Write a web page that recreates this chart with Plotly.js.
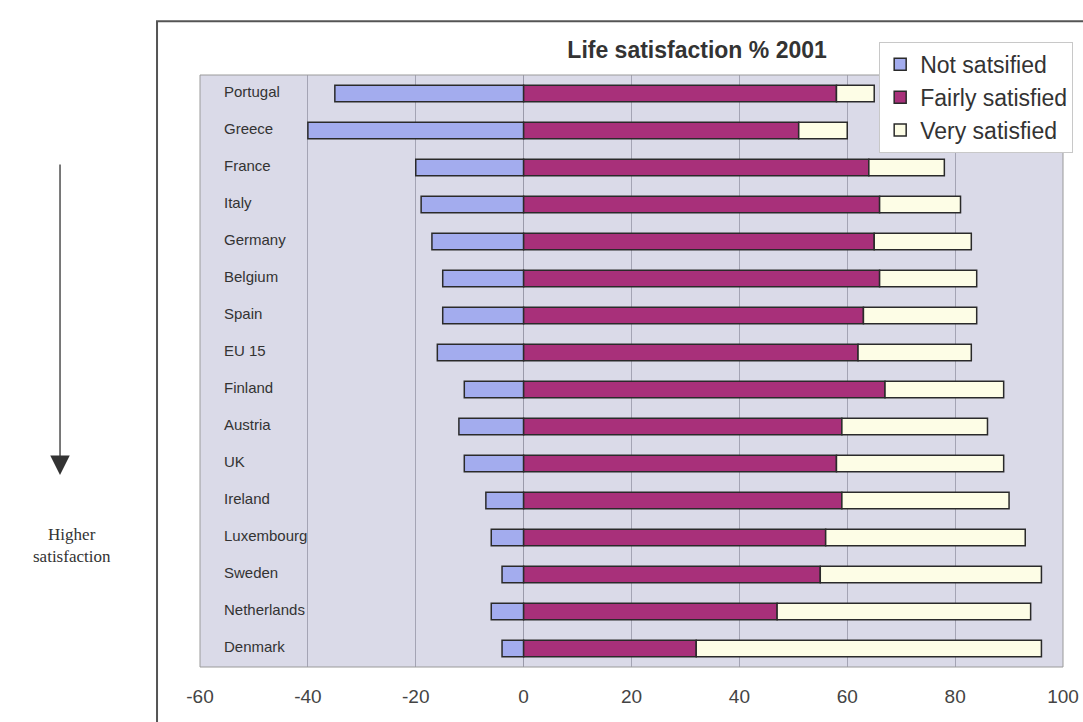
<!DOCTYPE html>
<html>
<head>
<meta charset="utf-8">
<script src="https://cdn.plot.ly/plotly-3.0.1.min.js"></script>
<style>
  html, body { margin: 0; padding: 0; background: #ffffff; }
  #chart { width: 1083px; height: 722px; }
</style>
</head>
<body>
<div id="chart"></div>
<script>
// Data
const countries = ["Portugal", "Greece", "France", "Italy", "Germany", "Belgium", "Spain", "EU 15",
  "Finland", "Austria", "UK", "Ireland", "Luxembourg", "Sweden", "Netherlands", "Denmark"];
const notSatisfied = [-35, -40, -20, -19, -17, -15, -15, -16, -11, -12, -11, -7, -6, -4, -6, -4];
const fairlySatisfied = [58, 51, 64, 66, 65, 66, 63, 62, 67, 59, 58, 59, 56, 55, 47, 32];
const verySatisfied = [7, 9, 14, 15, 18, 18, 21, 21, 22, 27, 31, 31, 37, 41, 47, 64];
const seriesNames = ["Not satsified", "Fairly satisfied", "Very satisfied"];
const xTicks = [-60, -40, -20, 0, 20, 40, 60, 80, 100];

const outline = { color: "#2a2a2a", width: 1.5 };

const traces = [
  { type: "bar", orientation: "h", name: seriesNames[0], y: countries, x: notSatisfied,
    marker: { color: "#a3acee", line: outline }, legendgroup: "a", hoverinfo: "x+y" },
  { type: "bar", orientation: "h", name: seriesNames[1], y: countries, x: fairlySatisfied,
    marker: { color: "#a8307a", line: outline }, legendgroup: "b", hoverinfo: "x+y" },
  { type: "bar", orientation: "h", name: seriesNames[2], y: countries, x: verySatisfied,
    marker: { color: "#fdfde6", line: outline }, legendgroup: "c", hoverinfo: "x+y" }
];

// Category labels drawn inside the plot area, placed on the category scale
const categoryLabels = countries.map(c => ({
  xref: "paper", yref: "y", x: 0.0255, y: c, xanchor: "left", yanchor: "middle",
  text: c, showarrow: false, yshift: 2,
  font: { family: "Arial, Liberation Sans, sans-serif", size: 15, color: "#333" }
}));

const layout = {
  width: 1083,
  height: 722,
  margin: { l: 200, r: 20, t: 75, b: 55, pad: 0, autoexpand: false },
  paper_bgcolor: "#ffffff",
  plot_bgcolor: "#dadae8",
  barmode: "relative",
  bargap: 0.55,
  font: { family: "Arial, Liberation Sans, sans-serif", color: "#333" },
  title: {
    text: "<b>Life satisfaction % 2001</b>",
    font: { family: "Arial, Liberation Sans, sans-serif", size: 23, color: "#333" },
    x: 0.576, xref: "paper", xanchor: "center",
    y: 0.931, yanchor: "middle"
  },
  xaxis: {
    range: [-60, 100],
    tickvals: xTicks,
    ticktext: xTicks.map(String),
    showgrid: true,
    gridcolor: "#a4a4b4",
    gridwidth: 1,
    zeroline: true,
    zerolinecolor: "#9a9aaa",
    zerolinewidth: 1,
    ticks: "",
    ticklabelstandoff: 16,
    tickfont: { family: "Arial, Liberation Sans, sans-serif", size: 19, color: "#444" },
    showline: false,
    automargin: false,
    fixedrange: true
  },
  yaxis: {
    type: "category",
    autorange: "reversed",
    showgrid: false,
    zeroline: false,
    ticks: "",
    showticklabels: false,
    showline: false,
    automargin: false,
    fixedrange: true
  },
  legend: {
    x: 0.787, xanchor: "left",
    y: 1.056, yanchor: "top",
    bgcolor: "#ffffff",
    bordercolor: "#c8c8c8",
    borderwidth: 1,
    font: { family: "Arial, Liberation Sans, sans-serif", size: 23, color: "#333" },
    tracegroupgap: 5,
    traceorder: "normal"
  },
  shapes: [
    // plot-area border
    { type: "rect", xref: "paper", yref: "paper", x0: 0, x1: 1, y0: 0, y1: 1,
      line: { color: "#9a9a9a", width: 1 }, fillcolor: "rgba(0,0,0,0)", layer: "above" },
    // outer chart frame
    { type: "rect", xref: "paper", yref: "paper", x0: -0.0498, x1: 1.035, y0: -0.12, y1: 1.091,
      line: { color: "#555555", width: 2 }, fillcolor: "rgba(0,0,0,0)" }
  ],
  annotations: [
    { xref: "paper", yref: "paper", x: -0.1622, y: 0.3243, text: "",
      showarrow: true, axref: "pixel", ayref: "pixel", ax: 0, ay: -312,
      arrowhead: 2, arrowsize: 3, arrowwidth: 1.3, arrowcolor: "#333" },
    { xref: "paper", yref: "paper", x: -0.148, y: 0.205, xanchor: "center", yanchor: "middle",
      text: "Higher<br>satisfaction", showarrow: false, align: "center",
      font: { family: "Liberation Serif, Times New Roman, serif", size: 17, color: "#333" } }
  ].concat(categoryLabels)
};

Plotly.newPlot("chart", traces, layout, { displayModeBar: false, staticPlot: true });
</script>
</body>
</html>
